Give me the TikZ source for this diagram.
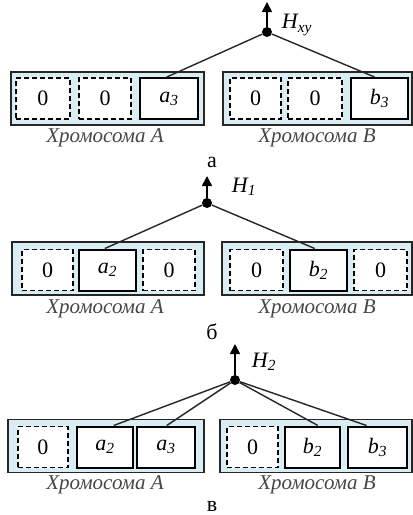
\documentclass[tikz,border=0pt]{standalone}
\usepackage{fontspec}
\setmainfont{Liberation Serif}
\usepackage{tikz}
\usetikzlibrary{arrows.meta}
\usetikzlibrary{positioning}
\definecolor{chromfill}{RGB}{218,237,243}
\definecolor{labgray}{RGB}{70,70,70}

\begin{document}
\begin{tikzpicture}
		[x=1pt,y=-1pt,
		every node/.style={font=\fontsize{22}{26}\selectfont},
		box/.style={draw=black!85,fill=chromfill,line width=1.5pt,minimum height=53,inner sep=0},
		gene/.style={draw,fill=white,line width=2pt,minimum width=55,minimum height=41,inner sep=0},
		zero/.style={gene,line width=1.5pt,dash pattern=on 5pt off 3pt},
		knot/.style={circle,fill,inner sep=0,minimum size=10},
		chrom/.style={text=labgray,font=\fontsize{21}{24}\selectfont\itshape},
		wire/.style={line width=1.4pt,black!85},
		up/.style={line width=1.5pt,-{Triangle[length=10pt,width=10pt]}}]
		\useasboundingbox (0,0) rectangle (413,515);
		
		% (а)
		\node[box,minimum width=193] (Xa) at (107.5,98.5) {};
		\node[box,minimum width=189] (Ya) at (317.5,98.5) {};
		\node[zero,minimum width=54] (A1a) at (43,98.5) {0};
		\node[zero,minimum width=52] (A2a) at (105,98.5) {0};
		\node[gene,minimum width=58] (A3a) at (169,98.5) {\itshape a\textsubscript{3}};
		\node[zero,minimum width=51] (B1a) at (255.5,98.5) {0};
		\node[zero,minimum width=54] (B2a) at (315,98.5) {0};
		\node[gene,minimum width=57] (B3a) at (379.5,98.5) {\itshape b\textsubscript{3}};
		\node[chrom] (LAa) at (105,138) {Хромосома A};
		\node[chrom] (LBa) at (317,138) {Хромосома B};
		\node (Ca) at (212,162) {а};
		\node[knot] (Ha) at (267,32) {};
		\coordinate (Ta) at (267,2);
		\node (Na) at (297,25) {\itshape H\textsubscript{xy}};
		
		% (б)
		\node[box,minimum width=192] (Xb) at (108,268.5) {};
		\node[box,minimum width=190] (Yb) at (317,268.5) {};
		\node[zero,minimum width=51] (A1b) at (47.5,270) {0};
		\node[gene,minimum width=57] (A2b) at (107.5,270) {\itshape a\textsubscript{2}};
		\node[zero,minimum width=52] (A3b) at (169,270) {0};
		\node[zero,minimum width=53] (B1b) at (256.5,270) {0};
		\node[gene,minimum width=57] (B2b) at (318.5,270) {\itshape b\textsubscript{2}};
		\node[zero,minimum width=53] (B3b) at (380.5,270) {0};
		\node[chrom] (LAb) at (105,309) {Хромосома A};
		\node[chrom] (LBb) at (317,309) {Хромосома B};
		\node (Cb) at (212,332) {б};
		\node[knot] (Hb) at (207,203) {};
		\coordinate (Tb) at (207,176);
		\node (Nb) at (244,187) {\itshape H\textsubscript{1}};
		
		% (в)
		\node[box,minimum width=196] (Xc) at (106,446) {};
		\node[box,minimum width=192] (Yc) at (316,446) {};
		\node[zero,minimum width=50] (A1c) at (43,447) {0};
		\node[gene,minimum width=56] (A2c) at (105,447) {\itshape a\textsubscript{2}};
		\node[gene,minimum width=58] (A3c) at (166,447) {\itshape a\textsubscript{3}};
		\node[zero,minimum width=51] (B1c) at (252.5,447) {0};
		\node[gene,minimum width=55] (B2c) at (312.5,447) {\itshape b\textsubscript{2}};
		\node[gene,minimum width=59] (B3c) at (377.5,447) {\itshape b\textsubscript{3}};
		\node[chrom] (LAc) at (105,485) {Хромосома A};
		\node[chrom] (LBc) at (317,485) {Хромосома B};
		\node (Cc) at (212,506) {в};
		\node[knot] (Hc) at (235,380) {};
		\coordinate (Tc) at (235,344);
		\node (Nc) at (264,362) {\itshape H\textsubscript{2}};
		
		\foreach \from/\to in 
		{Ha/A3a.96, Ha/B3a.103, Hb/A2b.97, Hb/B2b.100,
		 Hc/A2c.68, Hc/A3c.88, Hc/B2c.76, Hc/B3c.117}
		\draw[wire] (\from) -- (\to);
		\foreach \from/\to in {Ha/Ta, Hb/Tb, Hc/Tc}
		\draw[up] (\from) -- (\to);
		\end{tikzpicture}
\end{document}
